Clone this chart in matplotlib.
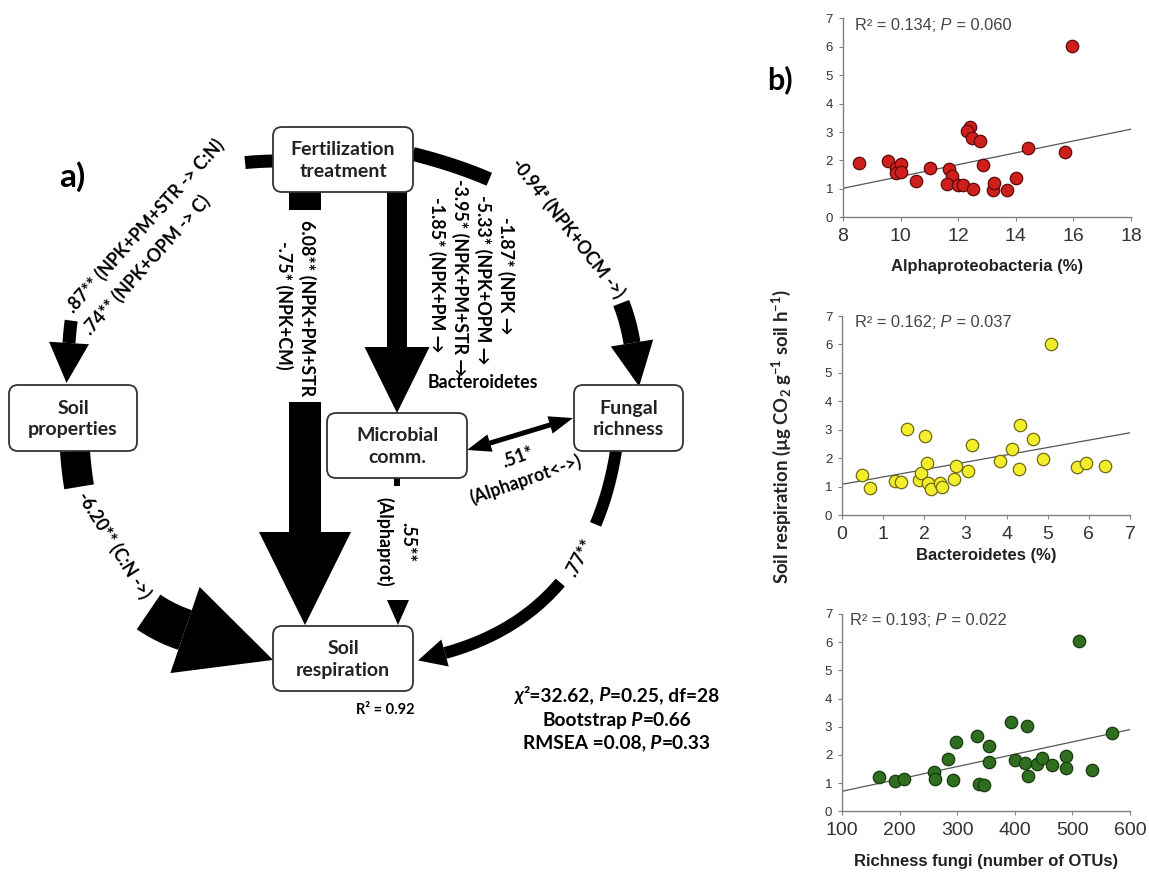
import numpy as np
import matplotlib
matplotlib.use("Agg")
import matplotlib.pyplot as plt
from matplotlib.patches import FancyBboxPatch, Polygon
from matplotlib.offsetbox import TextArea, HPacker, AnnotationBbox

plt.rcParams['mathtext.fontset'] = 'custom'
plt.rcParams['mathtext.rm'] = 'Lato:bold'
plt.rcParams['mathtext.it'] = 'Lato:bold:italic'
plt.rcParams['mathtext.bf'] = 'Lato:bold'

# ---- panel b data ----
alpha_pct = [8.56, 9.56, 9.85, 9.83, 10.03, 10.03, 10.53, 11.02, 11.69, 11.80, 11.60, 12.00, 12.17,
             12.42, 12.32, 12.47, 12.75, 12.86, 12.52, 13.20, 13.25, 13.70, 14.00, 14.42, 15.70, 15.94]
alpha_resp = [1.90, 1.98, 1.72, 1.55, 1.86, 1.60, 1.28, 1.75, 1.70, 1.47, 1.16, 1.13, 1.13,
              3.17, 3.05, 2.79, 2.70, 1.85, 0.98, 0.96, 1.21, 0.96, 1.40, 2.45, 2.31, 6.03]
alpha_fit_x = [8, 18]
alpha_fit_y = [1.02, 3.10]

bact_pct = [0.49, 0.69, 1.29, 1.43, 1.59, 1.86, 1.92, 2.02, 2.06, 2.10, 2.17, 2.39, 2.44, 2.72,
            2.76, 3.07, 3.17, 3.83, 4.13, 4.31, 4.33, 4.64, 4.89, 5.08, 5.70, 5.93, 6.38]
bact_resp = [1.42, 0.97, 1.19, 1.16, 3.03, 1.23, 1.49, 2.79, 1.85, 1.12, 0.94, 1.12, 1.00, 1.28,
             1.73, 1.56, 2.46, 1.90, 2.32, 1.62, 3.16, 2.69, 1.99, 6.02, 1.69, 1.84, 1.72]
bact_fit_x = [0, 7]
bact_fit_y = [1.09, 2.90]

fungi_otu = [165, 192, 208, 260, 261, 284, 292, 298, 335, 338, 347, 355, 355, 393, 400, 421,
             417, 423, 438, 447, 464, 488, 488, 512, 534, 568]
fungi_resp = [1.23, 1.09, 1.15, 1.39, 1.16, 1.84, 1.11, 2.47, 2.68, 0.96, 0.92, 2.33, 1.74, 3.16,
              1.83, 3.04, 1.71, 1.26, 1.68, 1.88, 1.63, 1.97, 1.55, 6.05, 1.47, 2.79]
fungi_fit_x = [100, 600]
fungi_fit_y = [0.71, 2.90]

DIAG = ['Lato', 'DejaVu Sans']
SCAT = ['Liberation Sans', 'DejaVu Sans']
PX = 0.72  # points per pixel at 100 dpi

fig = plt.figure(figsize=(11.49, 8.72), dpi=100)
ax0 = fig.add_axes([0, 0, 1, 1])
ax0.set_xlim(0, 1149)
ax0.set_ylim(872, 0)
ax0.axis('off')


def bez(p0, p1, p2, t0, t1, n=60):
    t = np.linspace(t0, t1, n)[:, None]
    p0, p1, p2 = (np.asarray(p, float) for p in (p0, p1, p2))
    return (1 - t) ** 2 * p0 + 2 * (1 - t) * t * p1 + t ** 2 * p2


def band(pts, w):
    pts = np.asarray(pts, float)
    ax0.plot(pts[:, 0], pts[:, 1], color='k', lw=w * PX, solid_capstyle='butt', zorder=2)


def head(base, d, length, width):
    d = np.asarray(d, float)
    d = d / np.hypot(*d)
    n = np.array([-d[1], d[0]]) * width / 2
    b = np.asarray(base, float)
    ax0.add_patch(Polygon([b + n, b + d * length, b - n], closed=True, fc='k', ec='none', zorder=2))


def mixed(parts, size, weight='bold', family=DIAG, color='k'):
    kids = [TextArea(s, textprops=dict(fontsize=size, fontweight=weight, fontstyle=st,
                                       family=family, color=color)) for s, st in parts]
    return HPacker(children=kids, align='baseline', pad=0, sep=0)


# ---- panel a: path diagram ----
# curved arrows: p0, control, p2 (head base), visible pieces, head length, head width
curves = [
    ((273, 161), (80, 165), (69, 343), [(0, 0.075, 13), (0.935, 1, 13)], 40, 40),
    ((413, 154), (609, 203), (632, 343), [(0, 0.215, 14), (0.85, 1, 17)], 44, 43),
    ((75, 451), (85, 596), (185, 630), [(0, 0.13, 30), (0.8, 1, 42)], 93, 91),
    ((616, 451), (590, 613), (445, 653), [(0, 0.25, 12), (0.5, 1, 12)], 28, 28),
]
for p0, p1, p2, pieces, hl, hw in curves:
    for t0, t1, w in pieces:
        band(bez(p0, p1, p2, t0, t1), w)
    head(p2, np.subtract(p2, p1), hl, hw)

# straight arrows
band([(397, 192), (397, 349)], 20)
head((397, 347), (0, 1), 66, 65)
band([(305, 192), (305, 210)], 32)
band([(305, 402), (305, 534)], 32)
head((305, 532), (0, 1), 93, 92)
band([(397, 478), (397, 486)], 6)
head((398, 600), (0, 1), 25, 22)

# double arrow microbial <-> fungal
left_tip, right_tip = np.array([467, 450.0]), np.array([573, 418.0])
u = (right_tip - left_tip) / np.hypot(*(right_tip - left_tip))
band([left_tip + u * 22, right_tip - u * 22], 5)
head(left_tip + u * 24, -u, 24, 18)
head(right_tip - u * 24, u, 24, 18)

boxes = [
    (273, 127, 413, 192, 'Fertilization\ntreatment'),
    (9, 385, 137, 451, 'Soil\nproperties'),
    (327, 413, 467, 478, 'Microbial\ncomm.'),
    (574, 385, 683, 451, 'Fungal\nrichness'),
    (273, 626, 413, 691, 'Soil\nrespiration'),
]
for x0, y0, x1, y1, txt in boxes:
    ax0.add_patch(FancyBboxPatch((x0, y0), x1 - x0, y1 - y0,
                                 boxstyle='round,pad=0,rounding_size=9',
                                 fc='white', ec='#333333', lw=1.3, zorder=3))
    ax0.text((x0 + x1) / 2, (y0 + y1) / 2 + 1, txt, ha='center', va='center', fontsize=14,
             fontweight='bold', family=DIAG, color='#222222', linespacing=1.3, zorder=4)

labels = [
    ('.87** (NPK+PM+STR -> C:N)', 145, 226, 48),
    ('.74** (NPK+OPM -> C)', 147, 265, 48),
    ('-0.94\u1d43 (NPK+OCM ->)', 568, 228, -52),
    ('6.08** (NPK+PM+STR', 307, 308, -90),
    ('-.75* (NPK+CM)', 284, 305, -90),
    ('-1.87* (NPK \u2192', 506, 276, -90),
    ('-5.33* (NPK+OPM \u2192', 483, 280, -90),
    ('-3.95* (NPK+PM+STR \u2192', 460, 278, -90),
    ('-1.85* (NPK+PM \u2192', 437, 275, -90),
    ('Bacteroidetes', 483, 382, 0),
    ('-6.20** (C:N ->)', 114, 545, -58),
    ('.55**', 408, 542, -90),
    ('(Alphaprot)', 384, 542, -90),
    ('.51*', 518, 457, 20),
    ('(Alphaprot<->)', 526, 479, 19),
    ('.77**', 580, 558, 62),
]
for txt, x, y, rot in labels:
    ax0.text(x, y, txt, rotation=rot, rotation_mode='anchor', ha='center', va='center',
             fontsize=12.8, fontweight='bold', family=DIAG, color='k', zorder=4)

ax0.text(385, 710, 'R\u00b2 = 0.92', ha='center', va='center', fontsize=10.5,
         fontweight='bold', family=DIAG)
ax0.text(72, 177, 'a)', ha='center', va='center', fontsize=24, fontweight='bold', family=DIAG)
ax0.text(780, 80, 'b)', ha='center', va='center', fontsize=22, fontweight='bold', family=DIAG)

stats = [
    ([('\u03c7', 'italic'), ('\u00b2=32.62,', 'normal'), (' P', 'italic'), ('=0.25, df=28', 'normal')], 695),
    ([('Bootstrap', 'normal'), (' P', 'italic'), ('=0.66', 'normal')], 720),
    ([('RMSEA =0.08,', 'normal'), (' P', 'italic'), ('=0.33', 'normal')], 743),
]
for parts, y in stats:
    ax0.add_artist(AnnotationBbox(mixed(parts, 13.8), (617, y), xycoords='data', frameon=False,
                                  box_alignment=(0.5, 0.5), pad=0))

# ---- panel b: scatter plots ----
panels = [
    dict(x=alpha_pct, y=alpha_resp, fx=alpha_fit_x, fy=alpha_fit_y, xlim=(8, 18),
         xticks=[8, 10, 12, 14, 16, 18], xlabel='Alphaproteobacteria (%)', r2='0.134', p='0.060',
         fc='#cf1f1c', ec='#5c0b0b', pos=[0.7336, 0.7508, 0.2507, 0.2282], lab=-0.245, tx=0.042),
    dict(x=bact_pct, y=bact_resp, fx=bact_fit_x, fy=bact_fit_y, xlim=(0, 7),
         xticks=list(range(8)), xlabel='Bacteroidetes (%)', r2='0.162', p='0.037',
         fc='#f3ee2b', ec='#6f6a14', pos=[0.7328, 0.4090, 0.2507, 0.2286], lab=-0.20, tx=0.045),
    dict(x=fungi_otu, y=fungi_resp, fx=fungi_fit_x, fy=fungi_fit_y, xlim=(100, 600),
         xticks=[100, 200, 300, 400, 500, 600], xlabel='Richness fungi (number of OTUs)',
         r2='0.193', p='0.022', fc='#2f6d1f', ec='#173a0f', pos=[0.7328, 0.0696, 0.2507, 0.2263],
         lab=-0.255, tx=0.028),
]
for pn in panels:
    ax = fig.add_axes(pn['pos'])
    ax.scatter(pn['x'], pn['y'], s=80, c=pn['fc'], edgecolors=pn['ec'], linewidths=0.9, zorder=3)
    ax.plot(pn['fx'], pn['fy'], color='#555555', lw=0.9, zorder=2)
    ax.set_xlim(*pn['xlim'])
    ax.set_ylim(0, 7)
    ax.set_xticks(pn['xticks'])
    ax.set_yticks(range(8))
    for side in ('top', 'right'):
        ax.spines[side].set_visible(False)
    for side in ('left', 'bottom'):
        ax.spines[side].set_color('#808080')
        ax.spines[side].set_linewidth(1.0)
    ax.tick_params(direction='out', length=3, width=0.8, color='#808080')
    ax.tick_params(axis='x', labelsize=14, labelcolor='#333333', pad=4.5)
    ax.tick_params(axis='y', labelsize=9.5, labelcolor='#333333', pad=4)
    for t in ax.get_xticklabels() + ax.get_yticklabels():
        t.set_family(SCAT)
    ax.set_xlabel(pn['xlabel'], fontsize=12, fontweight='bold', family=SCAT, color='#222222')
    ax.xaxis.set_label_coords(0.5, pn['lab'])
    ax.xaxis.label.set_va('center')
    txt = mixed([('R\u00b2 = %s;' % pn['r2'], 'normal'), (' P', 'italic'), (' = %s' % pn['p'], 'normal')],
                11.8, weight='normal', family=SCAT, color='#444444')
    ax.add_artist(AnnotationBbox(txt, (pn['tx'], 0.965), xycoords='axes fraction', frameon=False,
                                 box_alignment=(0, 0.5), pad=0))

fig.text(781 / 1149, 1 - 437 / 872, 'Soil respiration (\u00b5g CO$_2$ g$^{-1}$ soil h$^{-1}$)',
         rotation=90, ha='center', va='center', fontsize=13.3, fontweight='bold', family=DIAG,
         color='#222222')

fig.savefig('out.png', dpi=100)
